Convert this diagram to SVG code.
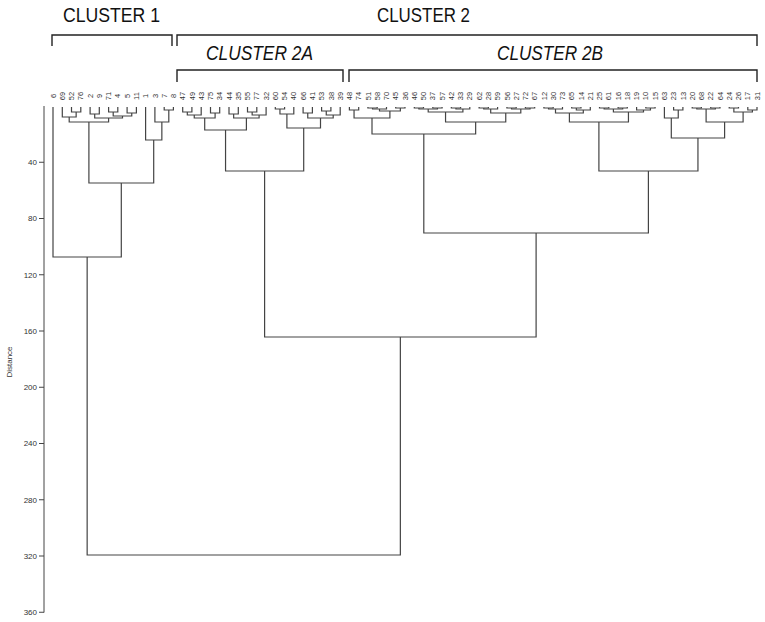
<svg xmlns="http://www.w3.org/2000/svg" width="765" height="622" viewBox="0 0 765 622">
<style>
.br{fill:none;stroke:#444;stroke-width:1.2}
.ax{fill:none;stroke:#444;stroke-width:1}
.bk{fill:none;stroke:#222;stroke-width:1.4}
.lb{font-family:'Liberation Sans',Arial,sans-serif;font-size:7.5px;fill:#333;text-anchor:middle}
.tk{font-family:'Liberation Sans',Arial,sans-serif;font-size:8px;fill:#333;text-anchor:end}
.cl{font-family:'Liberation Sans',Arial,sans-serif;font-size:21px;fill:#111}
.it{font-style:italic}
</style>
<rect width="765" height="622" fill="#fff"/>
<g id="cluster-labels">
<text class="cl" x="63" y="22" textLength="97" lengthAdjust="spacingAndGlyphs">CLUSTER 1</text>
<text class="cl" x="377" y="22" textLength="93" lengthAdjust="spacingAndGlyphs">CLUSTER 2</text>
<text class="cl it" x="206" y="60" textLength="107" lengthAdjust="spacingAndGlyphs">CLUSTER 2A</text>
<text class="cl it" x="497" y="60" textLength="106" lengthAdjust="spacingAndGlyphs">CLUSTER 2B</text>
<path class="bk" d="M52 46V35H172V46"/>
<path class="bk" d="M177 46V35H757V46"/>
<path class="bk" d="M177 82V70H343V82"/>
<path class="bk" d="M349 82V70H757V82"/>
</g>
<g id="axis">
<path class="ax" d="M44 106V612.5"/>
<path class="ax" d="M39 162.25H44M39 218.5H44M39 274.75H44M39 331H44M39 387.25H44M39 443.5H44M39 499.75H44M39 556H44M39 612.25H44"/>
<text class="tk" x="37" y="162.25" dy="0.35em">40</text>
<text class="tk" x="37" y="218.5" dy="0.35em">80</text>
<text class="tk" x="37" y="274.75" dy="0.35em">120</text>
<text class="tk" x="37" y="331" dy="0.35em">160</text>
<text class="tk" x="37" y="387.25" dy="0.35em">200</text>
<text class="tk" x="37" y="443.5" dy="0.35em">240</text>
<text class="tk" x="37" y="499.75" dy="0.35em">280</text>
<text class="tk" x="37" y="556" dy="0.35em">320</text>
<text class="tk" x="37" y="612.25" dy="0.35em">360</text>
<text class="tk" transform="translate(9 362) rotate(-90)" style="text-anchor:middle" dy="0.35em">Distance</text>
</g>
<g id="leaves">
<g id="leaf-6"><text class="lb" transform="translate(53 96) rotate(-90)" dy="0.35em">6</text></g>
<g id="leaf-69"><text class="lb" transform="translate(62.3 96) rotate(-90)" dy="0.35em">69</text></g>
<g id="leaf-52"><text class="lb" transform="translate(71.5 96) rotate(-90)" dy="0.35em">52</text></g>
<g id="leaf-76"><text class="lb" transform="translate(80.8 96) rotate(-90)" dy="0.35em">76</text></g>
<g id="leaf-2"><text class="lb" transform="translate(90.1 96) rotate(-90)" dy="0.35em">2</text></g>
<g id="leaf-9"><text class="lb" transform="translate(99.3 96) rotate(-90)" dy="0.35em">9</text></g>
<g id="leaf-71"><text class="lb" transform="translate(108.6 96) rotate(-90)" dy="0.35em">71</text></g>
<g id="leaf-4"><text class="lb" transform="translate(117.8 96) rotate(-90)" dy="0.35em">4</text></g>
<g id="leaf-5"><text class="lb" transform="translate(127.1 96) rotate(-90)" dy="0.35em">5</text></g>
<g id="leaf-11"><text class="lb" transform="translate(136.4 96) rotate(-90)" dy="0.35em">11</text></g>
<g id="leaf-1"><text class="lb" transform="translate(145.6 96) rotate(-90)" dy="0.35em">1</text></g>
<g id="leaf-3"><text class="lb" transform="translate(154.9 96) rotate(-90)" dy="0.35em">3</text></g>
<g id="leaf-7"><text class="lb" transform="translate(164.2 96) rotate(-90)" dy="0.35em">7</text></g>
<g id="leaf-8"><text class="lb" transform="translate(173.4 96) rotate(-90)" dy="0.35em">8</text></g>
<g id="leaf-47"><text class="lb" transform="translate(182.7 96) rotate(-90)" dy="0.35em">47</text></g>
<g id="leaf-49"><text class="lb" transform="translate(191.9 96) rotate(-90)" dy="0.35em">49</text></g>
<g id="leaf-43"><text class="lb" transform="translate(201.2 96) rotate(-90)" dy="0.35em">43</text></g>
<g id="leaf-75"><text class="lb" transform="translate(210.5 96) rotate(-90)" dy="0.35em">75</text></g>
<g id="leaf-34"><text class="lb" transform="translate(219.7 96) rotate(-90)" dy="0.35em">34</text></g>
<g id="leaf-44"><text class="lb" transform="translate(229 96) rotate(-90)" dy="0.35em">44</text></g>
<g id="leaf-35"><text class="lb" transform="translate(238.3 96) rotate(-90)" dy="0.35em">35</text></g>
<g id="leaf-55"><text class="lb" transform="translate(247.5 96) rotate(-90)" dy="0.35em">55</text></g>
<g id="leaf-77"><text class="lb" transform="translate(256.8 96) rotate(-90)" dy="0.35em">77</text></g>
<g id="leaf-32"><text class="lb" transform="translate(266.1 96) rotate(-90)" dy="0.35em">32</text></g>
<g id="leaf-60"><text class="lb" transform="translate(275.3 96) rotate(-90)" dy="0.35em">60</text></g>
<g id="leaf-54"><text class="lb" transform="translate(284.6 96) rotate(-90)" dy="0.35em">54</text></g>
<g id="leaf-40"><text class="lb" transform="translate(293.8 96) rotate(-90)" dy="0.35em">40</text></g>
<g id="leaf-66"><text class="lb" transform="translate(303.1 96) rotate(-90)" dy="0.35em">66</text></g>
<g id="leaf-41"><text class="lb" transform="translate(312.4 96) rotate(-90)" dy="0.35em">41</text></g>
<g id="leaf-53"><text class="lb" transform="translate(321.6 96) rotate(-90)" dy="0.35em">53</text></g>
<g id="leaf-38"><text class="lb" transform="translate(330.9 96) rotate(-90)" dy="0.35em">38</text></g>
<g id="leaf-39"><text class="lb" transform="translate(340.2 96) rotate(-90)" dy="0.35em">39</text></g>
<g id="leaf-48"><text class="lb" transform="translate(349.4 96) rotate(-90)" dy="0.35em">48</text></g>
<g id="leaf-74"><text class="lb" transform="translate(358.7 96) rotate(-90)" dy="0.35em">74</text></g>
<g id="leaf-51"><text class="lb" transform="translate(367.9 96) rotate(-90)" dy="0.35em">51</text></g>
<g id="leaf-58"><text class="lb" transform="translate(377.2 96) rotate(-90)" dy="0.35em">58</text></g>
<g id="leaf-70"><text class="lb" transform="translate(386.5 96) rotate(-90)" dy="0.35em">70</text></g>
<g id="leaf-45"><text class="lb" transform="translate(395.7 96) rotate(-90)" dy="0.35em">45</text></g>
<g id="leaf-36"><text class="lb" transform="translate(405 96) rotate(-90)" dy="0.35em">36</text></g>
<g id="leaf-46"><text class="lb" transform="translate(414.3 96) rotate(-90)" dy="0.35em">46</text></g>
<g id="leaf-50"><text class="lb" transform="translate(423.5 96) rotate(-90)" dy="0.35em">50</text></g>
<g id="leaf-37"><text class="lb" transform="translate(432.8 96) rotate(-90)" dy="0.35em">37</text></g>
<g id="leaf-57"><text class="lb" transform="translate(442.1 96) rotate(-90)" dy="0.35em">57</text></g>
<g id="leaf-42"><text class="lb" transform="translate(451.3 96) rotate(-90)" dy="0.35em">42</text></g>
<g id="leaf-33"><text class="lb" transform="translate(460.6 96) rotate(-90)" dy="0.35em">33</text></g>
<g id="leaf-29"><text class="lb" transform="translate(469.8 96) rotate(-90)" dy="0.35em">29</text></g>
<g id="leaf-62"><text class="lb" transform="translate(479.1 96) rotate(-90)" dy="0.35em">62</text></g>
<g id="leaf-28"><text class="lb" transform="translate(488.4 96) rotate(-90)" dy="0.35em">28</text></g>
<g id="leaf-59"><text class="lb" transform="translate(497.6 96) rotate(-90)" dy="0.35em">59</text></g>
<g id="leaf-56"><text class="lb" transform="translate(506.9 96) rotate(-90)" dy="0.35em">56</text></g>
<g id="leaf-27"><text class="lb" transform="translate(516.2 96) rotate(-90)" dy="0.35em">27</text></g>
<g id="leaf-72"><text class="lb" transform="translate(525.4 96) rotate(-90)" dy="0.35em">72</text></g>
<g id="leaf-67"><text class="lb" transform="translate(534.7 96) rotate(-90)" dy="0.35em">67</text></g>
<g id="leaf-12"><text class="lb" transform="translate(543.9 96) rotate(-90)" dy="0.35em">12</text></g>
<g id="leaf-30"><text class="lb" transform="translate(553.2 96) rotate(-90)" dy="0.35em">30</text></g>
<g id="leaf-73"><text class="lb" transform="translate(562.5 96) rotate(-90)" dy="0.35em">73</text></g>
<g id="leaf-65"><text class="lb" transform="translate(571.7 96) rotate(-90)" dy="0.35em">65</text></g>
<g id="leaf-14"><text class="lb" transform="translate(581 96) rotate(-90)" dy="0.35em">14</text></g>
<g id="leaf-21"><text class="lb" transform="translate(590.3 96) rotate(-90)" dy="0.35em">21</text></g>
<g id="leaf-25"><text class="lb" transform="translate(599.5 96) rotate(-90)" dy="0.35em">25</text></g>
<g id="leaf-61"><text class="lb" transform="translate(608.8 96) rotate(-90)" dy="0.35em">61</text></g>
<g id="leaf-16"><text class="lb" transform="translate(618.1 96) rotate(-90)" dy="0.35em">16</text></g>
<g id="leaf-18"><text class="lb" transform="translate(627.3 96) rotate(-90)" dy="0.35em">18</text></g>
<g id="leaf-19"><text class="lb" transform="translate(636.6 96) rotate(-90)" dy="0.35em">19</text></g>
<g id="leaf-10"><text class="lb" transform="translate(645.8 96) rotate(-90)" dy="0.35em">10</text></g>
<g id="leaf-15"><text class="lb" transform="translate(655.1 96) rotate(-90)" dy="0.35em">15</text></g>
<g id="leaf-63"><text class="lb" transform="translate(664.4 96) rotate(-90)" dy="0.35em">63</text></g>
<g id="leaf-23"><text class="lb" transform="translate(673.6 96) rotate(-90)" dy="0.35em">23</text></g>
<g id="leaf-13"><text class="lb" transform="translate(682.9 96) rotate(-90)" dy="0.35em">13</text></g>
<g id="leaf-20"><text class="lb" transform="translate(692.2 96) rotate(-90)" dy="0.35em">20</text></g>
<g id="leaf-68"><text class="lb" transform="translate(701.4 96) rotate(-90)" dy="0.35em">68</text></g>
<g id="leaf-22"><text class="lb" transform="translate(710.7 96) rotate(-90)" dy="0.35em">22</text></g>
<g id="leaf-64"><text class="lb" transform="translate(720 96) rotate(-90)" dy="0.35em">64</text></g>
<g id="leaf-24"><text class="lb" transform="translate(729.2 96) rotate(-90)" dy="0.35em">24</text></g>
<g id="leaf-26"><text class="lb" transform="translate(738.5 96) rotate(-90)" dy="0.35em">26</text></g>
<g id="leaf-17"><text class="lb" transform="translate(747.8 96) rotate(-90)" dy="0.35em">17</text></g>
<g id="leaf-31"><text class="lb" transform="translate(757 96) rotate(-90)" dy="0.35em">31</text></g>
</g>
<g id="connectors">
<path class="br" d="M71.5 107V112H80.8V107"/>
<path class="br" d="M62.3 107V117H76.15V112"/>
<path class="br" d="M90.1 107V114H99.3V107"/>
<path class="br" d="M108.6 107V112H117.8V107"/>
<path class="br" d="M127.1 107V113H136.4V107"/>
<path class="br" d="M113.2 112V116H131.75V113"/>
<path class="br" d="M94.7 114V118H122.5V116"/>
<path class="br" d="M69.2 117V122H108.6V118"/>
<path class="br" d="M164.2 107V110H173.4V107"/>
<path class="br" d="M154.9 107V122H168.8V110"/>
<path class="br" d="M145.6 107V140H161.85V122"/>
<path class="br" d="M88.9 122V183H153.7V140"/>
<path class="br" d="M53 107V257H121.3V183"/>
<path class="br" d="M182.7 107V112H191.9V107"/>
<path class="br" d="M187.3 112V115H201.2V107"/>
<path class="br" d="M210.5 107V113H219.7V107"/>
<path class="br" d="M194.25 115V118H215.1V113"/>
<path class="br" d="M229 107V114H238.3V107"/>
<path class="br" d="M247.5 107V112H256.8V107"/>
<path class="br" d="M252.15 112V115H266.1V107"/>
<path class="br" d="M233.65 114V118H259.1V115"/>
<path class="br" d="M204.7 118V130H246.4V118"/>
<path class="br" d="M275.3 107V109H284.6V107"/>
<path class="br" d="M279.95 109V114H293.8V107"/>
<path class="br" d="M303.1 107V113H312.4V107"/>
<path class="br" d="M321.6 107V111H330.9V107"/>
<path class="br" d="M326.25 111V115H340.2V107"/>
<path class="br" d="M307.75 113V118H333.2V115"/>
<path class="br" d="M286.9 114V128H320.5V118"/>
<path class="br" d="M225.55 130V171H303.7V128"/>
<path class="br" d="M349.4 107V110H358.7V107"/>
<path class="br" d="M367.9 107V108H377.2V107"/>
<path class="br" d="M372.55 108V109H386.5V107"/>
<path class="br" d="M395.7 107V108H405V107"/>
<path class="br" d="M379.5 109V111H400.35V108"/>
<path class="br" d="M354.05 110V118H389.9V111"/>
<path class="br" d="M414.3 107V108H423.5V107"/>
<path class="br" d="M432.8 107V108H442.1V107"/>
<path class="br" d="M418.9 108V109H437.45V108"/>
<path class="br" d="M451.3 107V108H460.6V107"/>
<path class="br" d="M455.95 108V109H469.8V107"/>
<path class="br" d="M428.2 109V112H462.9V109"/>
<path class="br" d="M479.1 107V108H488.4V107"/>
<path class="br" d="M483.75 108V109H497.6V107"/>
<path class="br" d="M506.9 107V108H516.2V107"/>
<path class="br" d="M525.4 107V108H534.7V107"/>
<path class="br" d="M511.55 108V109H530.05V108"/>
<path class="br" d="M490.7 109V113H520.8V109"/>
<path class="br" d="M445.55 112V122H505.75V113"/>
<path class="br" d="M372 118V134H475.65V122"/>
<path class="br" d="M543.9 107V108H553.2V107"/>
<path class="br" d="M548.55 108V109H562.5V107"/>
<path class="br" d="M571.7 107V108H581V107"/>
<path class="br" d="M576.35 108V110H590.3V107"/>
<path class="br" d="M555.5 109V113H583.3V110"/>
<path class="br" d="M599.5 107V108H608.8V107"/>
<path class="br" d="M618.1 107V108H627.3V107"/>
<path class="br" d="M604.15 108V109H622.7V108"/>
<path class="br" d="M645.8 107V108H655.1V107"/>
<path class="br" d="M636.6 107V110H650.45V108"/>
<path class="br" d="M613.4 109V112H643.5V110"/>
<path class="br" d="M569.4 113V122H628.45V112"/>
<path class="br" d="M673.6 107V110H682.9V107"/>
<path class="br" d="M664.4 107V118H678.25V110"/>
<path class="br" d="M692.2 107V108H701.4V107"/>
<path class="br" d="M710.7 107V108H720V107"/>
<path class="br" d="M696.8 108V109H715.35V108"/>
<path class="br" d="M729.2 107V108H738.5V107"/>
<path class="br" d="M747.8 107V110H757V107"/>
<path class="br" d="M733.85 108V112H752.4V110"/>
<path class="br" d="M706.1 109V122H743.1V112"/>
<path class="br" d="M671.3 118V138H724.6V122"/>
<path class="br" d="M598.9 122V171H697.95V138"/>
<path class="br" d="M423.8 134V233H648.4V171"/>
<path class="br" d="M264.6 171V337H536.1V233"/>
<path class="br" d="M87.15 257V555H400.35V337"/>
</g>
</svg>
